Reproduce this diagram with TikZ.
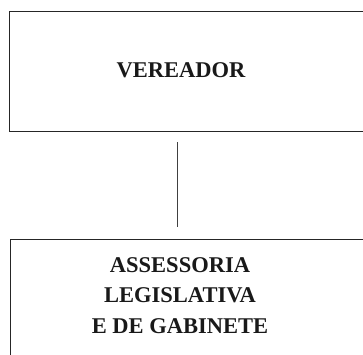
\documentclass[tikz,border=0pt]{standalone}
\usepackage{fontspec}
\setmainfont{Liberation Serif}
\begin{document}
\begin{tikzpicture}[x=1pt,y=-1pt,
	box/.style={draw=black!85, line width=0.9pt, inner sep=0pt},
	title/.style={inner sep=0pt, align=center, text=black!90, font=\fontsize{22.5}{30.5}\selectfont\bfseries},
	link/.style={draw=black!75, line width=0.7pt}]

	\useasboundingbox (0,0) rectangle (363,354);

	% upper box (cut at the right border)
	\node[box, minimum width=354.5pt, minimum height=120.5pt] (vereadorbox) at (186.75,71.25) {};
	\node[title, anchor=north] (vereador) at (181,62) {VEREADOR};

	% lower box (cut at the right and bottom border)
	\node[box, minimum width=354pt, minimum height=130pt] (assessoriabox) at (187,304) {};
	\node[title, anchor=north] (assessoria) at (180,257) {ASSESSORIA\\LEGISLATIVA\\E DE GABINETE};

	\coordinate (linetop) at (177.7,142);
	\coordinate (linebot) at (177.7,227);
	\draw[link] (linetop) -- (linebot);
\end{tikzpicture}
\end{document}
